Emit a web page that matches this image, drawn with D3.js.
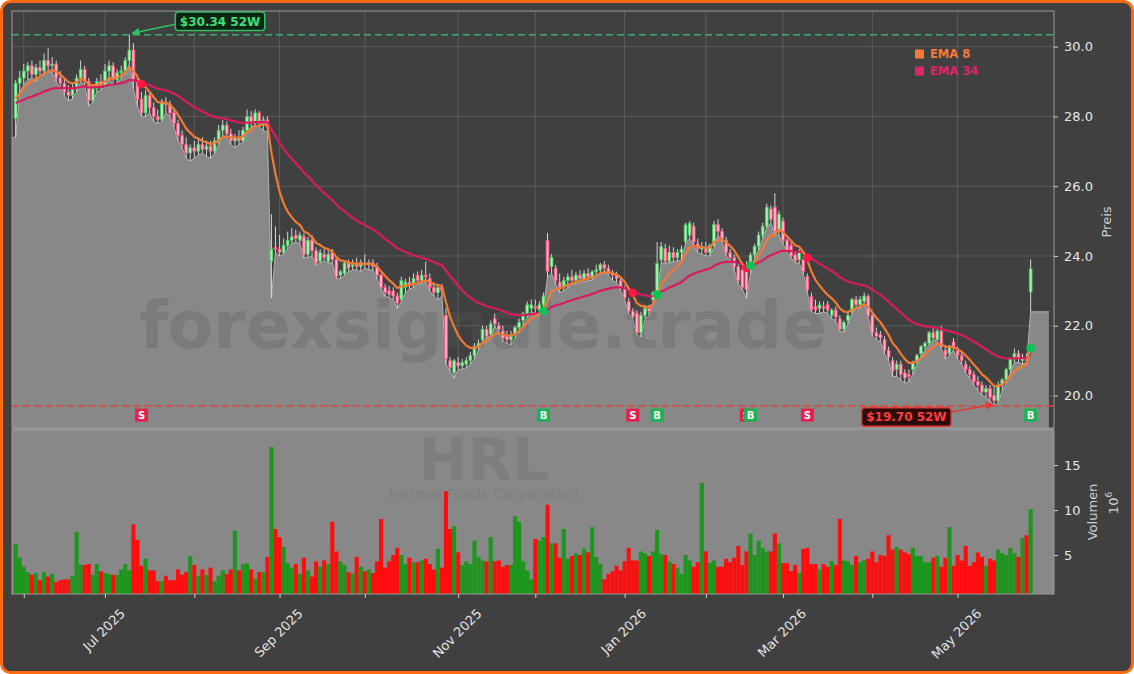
<!DOCTYPE html>
<html><head><meta charset="utf-8">
<script src="https://cdn.jsdelivr.net/npm/d3@7"></script>
<style>
html,body{margin:0;padding:0;background:#fff;}
svg{display:block;font-family:"DejaVu Sans",sans-serif;}
</style></head><body>
<svg id="chart" width="1134" height="674"></svg>
<script>
// ---------------- DATA ----------------
const ticker = "HRL";
const companyName = "Hormel Foods Corporation";
const watermark = "forexsignale.trade";
const firstDay = "2025-05-29", lastDay = "2026-05-28";
const holidays = ["2025-06-19","2025-07-04","2025-09-01","2025-11-27","2025-12-25","2026-01-01","2026-01-19","2026-02-16","2026-04-03","2026-05-25"];
const areaPadBars = [0.9, 4.5];   // fill extends this many bars beyond first / last candle

const opens = [
27.95,28.95,
29.10,29.30,29.45,29.20,29.40,29.30,29.60,29.45,29.50,29.10,28.95,28.70,28.60,28.80,29.10,29.35,29.00,28.45,28.80,29.00,
28.90,29.30,29.45,29.05,29.25,29.30,29.60,29.90,29.00,28.50,28.10,28.60,28.25,28.00,27.90,28.40,28.35,28.10,27.80,27.45,27.20,26.95,
27.10,27.00,27.20,27.05,27.15,27.00,27.30,27.60,27.75,27.50,27.30,27.40,27.30,27.60,28.00,27.80,28.10,27.80,27.90,23.85,24.25,
24.20,24.10,24.30,24.45,24.60,24.45,24.55,24.05,24.45,24.15,23.85,24.05,23.85,24.10,23.90,23.45,23.50,23.80,23.70,23.75,23.70,
23.80,23.75,23.80,23.70,23.45,23.10,23.00,23.00,22.85,22.75,23.10,23.25,23.20,23.45,23.30,23.45,23.35,23.10,22.95,23.10,22.30,21.00,20.65,
20.95,20.85,20.90,21.00,21.15,21.40,21.60,21.90,21.75,22.20,22.00,21.85,21.70,21.60,21.75,21.95,22.15,22.35,22.50,
22.55,22.45,22.60,24.45,23.70,23.65,23.25,23.10,23.30,23.40,23.30,23.45,23.35,23.50,23.40,23.55,23.60,23.75,23.65,23.50,23.45,23.30,
23.05,22.70,22.42,22.36,21.80,22.30,22.50,22.74,22.98,23.89,24.22,23.85,24.10,23.95,24.10,24.41,24.60,24.85,24.35,24.20,
24.25,24.10,24.30,24.90,24.70,24.45,24.10,23.95,23.70,23.60,23.75,23.60,24.03,24.27,24.60,24.85,25.35,25.40,24.70,
25.00,24.45,24.30,24.03,23.89,23.89,23.41,22.84,22.55,22.50,22.55,22.60,22.30,22.45,22.20,21.90,22.15,22.40,22.75,22.60,22.70,22.85,
22.30,21.80,21.75,21.60,21.30,21.00,20.75,20.90,20.65,20.60,20.75,20.95,21.20,21.40,21.50,21.80,21.60,21.85,21.30,21.20,21.55,
21.30,21.15,20.90,20.75,20.60,20.40,20.30,20.10,20.20,20.00,19.85,20.30,20.45,20.75,21.05,21.20,21.00,21.10,22.97];

const highs = [
29.05,29.30,
29.50,29.55,29.60,29.50,29.60,29.80,29.95,29.70,29.60,29.30,29.10,28.90,28.95,29.20,29.60,29.45,29.10,28.90,29.10,29.20,
29.50,29.60,29.55,29.35,29.45,29.70,30.34,30.10,29.20,28.70,28.75,28.70,28.40,28.20,28.50,28.55,28.45,28.20,27.90,27.60,27.40,27.20,
27.30,27.35,27.40,27.30,27.30,27.40,27.75,27.90,27.85,27.65,27.50,27.60,27.70,28.20,28.15,28.20,28.15,28.00,28.00,25.20,24.85,
24.60,24.50,24.70,24.80,24.75,24.70,24.65,24.55,24.60,24.25,24.20,24.20,24.15,24.20,23.95,23.60,23.85,23.90,23.90,23.95,23.90,
24.05,23.90,23.90,23.80,23.50,23.20,23.15,23.10,22.95,23.40,23.35,23.40,23.50,23.55,23.60,23.84,23.50,23.25,23.20,23.20,22.50,21.10,21.05,
21.10,21.05,21.10,21.25,21.50,21.60,22.00,22.00,22.15,22.35,22.10,22.00,21.85,21.85,22.00,22.20,22.40,22.70,22.75,
22.75,22.70,22.95,24.66,24.05,23.75,23.50,23.40,23.50,23.60,23.55,23.60,23.60,23.65,23.60,23.75,23.80,23.85,23.75,23.60,23.55,23.40,
23.15,22.80,22.50,22.45,22.40,22.60,22.60,23.00,24.40,24.40,24.35,24.30,24.25,24.20,24.30,24.95,25.00,24.95,24.50,24.40,
24.40,24.35,25.00,25.05,24.80,24.55,24.20,24.05,23.80,23.70,23.85,24.10,24.35,24.70,24.95,25.50,25.45,25.80,25.30,
25.10,24.50,24.40,24.15,24.20,24.00,23.50,22.95,22.75,22.70,22.70,22.70,22.50,22.55,22.30,22.15,22.40,22.80,22.85,22.85,22.95,22.90,
22.40,21.95,21.85,21.70,21.40,21.10,21.00,21.00,20.75,20.75,21.00,21.20,21.45,21.55,21.85,21.95,21.90,22.00,21.45,21.45,21.65,
21.40,21.25,21.00,20.85,20.70,20.55,20.40,20.30,20.30,20.25,20.40,20.50,20.80,21.10,21.35,21.30,21.20,21.20,23.90];

const lows = [
27.40,28.70,
28.90,29.05,29.10,29.00,29.15,29.20,29.30,29.25,29.00,28.80,28.60,28.45,28.50,28.70,29.00,28.90,28.30,28.40,28.70,28.75,
28.85,29.10,28.90,28.95,29.10,29.20,29.50,28.80,28.30,28.00,28.00,28.10,27.85,27.80,27.85,28.10,28.00,27.70,27.30,27.10,26.80,26.72,
26.80,26.90,26.95,26.85,26.80,26.95,27.20,27.45,27.40,27.20,27.10,27.20,27.25,27.55,27.70,27.75,27.70,27.60,27.55,22.80,24.10,
24.00,24.05,24.20,24.35,24.40,24.35,23.95,23.95,24.00,23.75,23.80,23.85,23.80,23.80,23.35,23.35,23.45,23.55,23.60,23.60,23.55,
23.65,23.60,23.60,23.35,23.05,22.85,22.80,22.75,22.50,22.70,22.95,23.05,23.10,23.20,23.20,23.25,23.00,22.85,22.74,22.85,20.90,20.70,20.50,
20.75,20.75,20.80,20.90,21.05,21.30,21.55,21.65,21.70,22.00,21.80,21.55,21.50,21.45,21.65,21.80,22.00,22.25,22.40,
22.35,22.30,22.50,23.40,23.50,23.20,22.95,23.00,23.10,23.20,23.20,23.25,23.25,23.30,23.30,23.45,23.50,23.55,23.45,23.30,23.25,23.00,
22.75,22.35,22.20,21.75,21.68,22.20,22.30,22.65,22.90,23.80,23.80,23.80,23.85,23.85,23.90,24.35,24.50,24.30,24.10,24.05,
24.00,24.00,24.25,24.60,24.40,24.00,23.85,23.60,23.20,23.05,22.79,23.50,23.95,24.15,24.50,24.80,24.95,24.60,24.60,
24.35,24.10,23.95,23.80,23.80,23.50,22.95,22.40,22.35,22.35,22.40,22.35,22.20,22.15,21.85,21.82,22.05,22.35,22.50,22.50,22.65,22.25,
21.70,21.60,21.55,21.20,21.00,20.55,20.55,20.45,20.36,20.40,20.60,20.90,21.10,21.30,21.45,21.60,21.55,21.35,21.05,21.15,21.30,
21.05,20.90,20.65,20.50,20.30,20.15,20.00,19.95,19.85,19.70,19.80,20.15,20.35,20.65,20.95,20.95,20.90,20.95,22.40];

const closes = [
28.95,29.10,
29.30,29.45,29.20,29.40,29.30,29.60,29.45,29.50,29.10,28.95,28.70,28.60,28.80,29.10,29.35,29.00,28.45,28.80,29.00,28.90,
29.30,29.45,29.05,29.25,29.30,29.60,29.90,29.00,28.50,28.10,28.60,28.25,28.00,27.90,28.40,28.35,28.10,27.80,27.45,27.20,26.95,27.10,
27.00,27.20,27.05,27.15,27.00,27.30,27.60,27.75,27.50,27.30,27.40,27.30,27.60,28.00,27.80,28.10,27.80,27.90,27.70,24.20,24.20,
24.10,24.30,24.45,24.55,24.50,24.60,24.05,24.45,24.15,23.80,24.10,23.95,24.05,23.90,23.40,23.55,23.80,23.65,23.75,23.70,23.80,
23.75,23.80,23.70,23.45,23.10,22.95,22.90,22.85,22.65,23.30,23.25,23.15,23.35,23.30,23.45,23.40,23.10,22.95,23.10,23.00,21.05,20.80,21.00,
20.85,20.95,21.00,21.15,21.40,21.50,21.90,21.70,22.05,22.05,21.90,21.65,21.60,21.70,21.95,22.10,22.35,22.60,22.60,
22.50,22.60,22.85,23.55,23.95,23.30,23.10,23.30,23.40,23.30,23.45,23.35,23.50,23.40,23.55,23.60,23.75,23.65,23.50,23.45,23.35,23.08,
22.80,22.42,22.26,21.80,22.30,22.50,22.42,22.94,23.79,24.27,23.85,24.10,23.95,24.10,24.20,24.89,24.93,24.40,24.20,24.25,
24.10,24.30,24.90,24.70,24.50,24.10,23.95,23.70,23.30,23.10,23.03,24.03,24.27,24.60,24.85,25.40,25.05,24.70,25.20,
24.45,24.15,24.00,23.86,24.13,23.55,23.03,22.46,22.45,22.60,22.50,22.45,22.45,22.25,21.90,22.10,22.30,22.75,22.60,22.75,22.85,22.30,
21.80,21.70,21.65,21.30,21.10,20.70,20.90,20.60,20.50,20.55,20.95,21.15,21.40,21.50,21.80,21.65,21.85,21.40,21.15,21.40,21.35,
21.15,21.00,20.75,20.60,20.40,20.30,20.10,20.20,19.95,19.85,20.30,20.45,20.75,21.05,21.20,21.05,21.10,21.00,23.63];

// volume in millions of shares
const volumes = [
6.2,4.7,3.7,3.1,2.8,3.0,2.2,3.1,2.6,2.9, 2.0,2.2,2.3,2.3,2.7,7.6,3.9,3.9,4.0,2.8,
4.0,3.2,3.0,2.9,2.8,2.8,3.4,4.0,3.3,8.4, 6.7,3.8,4.6,3.3,3.3,2.1,2.1,2.7,2.2,2.2,
3.4,2.8,3.1,4.9,3.9,2.7,3.4,2.8,3.6,2.1, 2.7,3.3,2.9,3.4,7.7,3.3,4.0,4.1,3.4,2.4,
3.1,3.1,4.8,17.0,7.9,7.0,5.9,4.1,3.6,4.0, 2.9,4.7,3.3,2.6,4.3,3.7,4.4,4.0,8.7,5.4,
4.3,3.9,3.1,2.9,4.8,3.7,3.2,3.4,3.0,4.3, 9.0,3.6,4.3,5.0,5.8,5.0,4.0,4.7,4.2,4.2,
4.4,4.6,4.0,3.4,5.7,3.6,12.1,7.9,8.2,5.3, 3.9,4.3,4.0,6.6,4.8,4.4,4.3,7.0,4.3,4.4,
3.7,3.9,3.9,9.3,8.7,4.3,3.3,2.3,6.8,6.6, 7.0,10.6,6.3,6.3,4.7,7.9,4.6,
4.9,5.2,5.0,5.7,5.3,8.1,4.8,4.0,2.3,2.9, 3.2,3.8,3.3,4.3,5.8,4.4,4.4,5.4,5.2,4.9,
5.4,7.8,5.1,5.0,4.3,4.0,3.6,2.9,5.0,4.4, 3.7,4.2,13.0,5.4,4.1,4.4,3.7,3.7,4.6,4.2,
4.7,6.0,3.9,5.4,7.4,5.0,6.6,5.8,5.4,5.4, 7.4,6.3,4.1,4.1,3.2,3.9,3.0,5.7,5.8,4.0,
4.0,3.4,4.0,3.7,4.3,3.9,9.0,4.4,4.3,3.9, 4.9,4.2,4.4,4.6,5.4,4.2,5.0,4.9,7.2,5.6,
5.9,5.6,5.3,5.1,5.8,4.9,4.9,4.2,4.2,4.7, 4.9,3.7,4.7,8.1,3.8,5.0,4.4,6.0,3.8,4.2,
5.3,4.8,3.8,4.6,4.4,5.6,5.2,5.0,5.8,5.2, 4.8,6.9,7.2,10.1];

const signalDates = ["2025-07-15","2025-12-03","2026-01-06","2026-01-14","2026-02-17","2026-02-18","2026-03-10","2026-05-28"];
const signalTypes = ["S","B","S","B","S","B","S","B"];
const emaSpans = [8, 34];
const emaSeeds = [28.40, 28.35];
const priceTicks = [20, 22, 24, 26, 28, 30];
const volumeTicks = [5, 10, 15];
const xTickLabels = ["Jul 2025","Sep 2025","Nov 2025","Jan 2026","Mar 2026","May 2026"];
const markerLevel = 19.44;

// ---------------- HELPERS ----------------
const parse = s => new Date(s + "T00:00:00Z");
const iso = d => d.toISOString().slice(0,10);
function tradingDays(start, end, hol){
  const out=[], hs=new Set(hol); let d=parse(start); const e=parse(end);
  while(d<=e){ const wd=d.getUTCDay();
    if(wd!==0 && wd!==6 && !hs.has(iso(d))) out.push(new Date(d));
    d=new Date(d.getTime()+86400000); }
  return out;
}
function ema(vals, span, seed){ const a=2/(span+1); let p=seed; return vals.map(v => (p = p + a*(v-p))); }

const dates = tradingDays(firstDay, lastDay, holidays);
const n = Math.min(dates.length, opens.length, highs.length, lows.length, closes.length, volumes.length);
const data = d3.range(n).map(i => ({
  i, date: dates[i], o: opens[i], c: closes[i],
  h: Math.max(highs[i], opens[i], closes[i]), l: Math.min(lows[i], opens[i], closes[i]), v: volumes[i]
}));
const ema8 = ema(data.map(d=>d.c), emaSpans[0], emaSeeds[0]);
const ema34 = ema(data.map(d=>d.c), emaSpans[1], emaSeeds[1]);

// ---------------- LAYOUT ----------------
const W=1134, H=674, L=12, R=1054, PT=11, PB=428, VT=430, VB=594;
const x = d3.scaleLinear().domain([-0.9, 255.75]).range([L,R]);   // bar-index axis
const yP = d3.scaleLinear().domain([19.07, 31.02]).range([PB, PT]);
const yV = d3.scaleLinear().domain([0.67, 18.9]).range([VB, VT]);

const svg = d3.select("#chart");
const defs = svg.append("defs");
defs.append("clipPath").attr("id","clipP").append("rect").attr("x",L).attr("y",PT).attr("width",R-L).attr("height",PB-PT);
defs.append("clipPath").attr("id","clipV").append("rect").attr("x",L).attr("y",VT).attr("width",R-L).attr("height",VB-VT);
function arrowMarker(id, color){
  defs.append("marker").attr("id",id).attr("viewBox","0 0 10 10").attr("refX",9).attr("refY",5)
    .attr("markerWidth",9).attr("markerHeight",8).attr("markerUnits","userSpaceOnUse").attr("orient","auto")
    .append("path").attr("d","M0,0L10,5L0,10z").attr("fill",color);
}
arrowMarker("arrG","#2fbf62"); arrowMarker("arrR","#e53935");

// figure frame
svg.append("rect").attr("x",1.5).attr("y",1.5).attr("width",W-3).attr("height",H-3).attr("rx",9)
  .attr("fill","#404040").attr("stroke","#ff6a10").attr("stroke-width",3);

// month ticks = first trading day of each month
const monthTicks = data.filter((d,k) => k>0 && d.date.getUTCMonth() !== data[k-1].date.getUTCMonth());
const fmtM = d3.utcFormat("%b %Y");

// ---------------- PRICE PANEL ----------------
const gp = svg.append("g").attr("clip-path","url(#clipP)");
gp.append("rect").attr("x",L).attr("y",PT).attr("width",R-L).attr("height",PB-PT).attr("fill","#404040");
gp.selectAll("line.hg").data(priceTicks).join("line").attr("x1",L).attr("x2",R)
  .attr("y1",d=>yP(d)).attr("y2",d=>yP(d)).attr("stroke","#5e5e5e").attr("stroke-width",0.9);
gp.selectAll("line.vg").data(monthTicks).join("line").attr("y1",PT).attr("y2",PB)
  .attr("x1",d=>x(d.i)).attr("x2",d=>x(d.i)).attr("stroke","#5e5e5e").attr("stroke-width",0.9);

// area under lows
const areaPts = [{i:-areaPadBars[0], l:data[0].l}, ...data, {i:n-1+areaPadBars[1], l:data[n-1].l}];
gp.append("path").datum(areaPts).attr("fill","#888888")
  .attr("d", d3.area().x(d=>x(d.i)).y0(PB).y1(d=>yP(d.l)));
gp.append("path").datum(areaPts).attr("fill","none").attr("stroke","#b0b0b0").attr("stroke-width",1)
  .attr("d", d3.line().x(d=>x(d.i)).y(d=>yP(d.l)));

// watermark
gp.append("text").attr("x",483).attr("y",348).attr("text-anchor","middle")
  .attr("font-size",66).attr("font-weight","bold").attr("fill","#595959").attr("fill-opacity",0.28).text(watermark);

// candles
const up = d => d.c >= d.o;
gp.selectAll("line.wick").data(data).join("line")
  .attr("x1",d=>x(d.i)).attr("x2",d=>x(d.i)).attr("y1",d=>yP(d.h)).attr("y2",d=>yP(d.l))
  .attr("stroke","#d4d4d4").attr("stroke-width",1);
gp.selectAll("rect.body").data(data).join("rect")
  .attr("x",d=>x(d.i)-1.4).attr("width",2.8)
  .attr("y",d=>yP(Math.max(d.o,d.c))).attr("height",d=>Math.max(0.8, Math.abs(yP(d.o)-yP(d.c))))
  .attr("fill",d=>up(d)?"#aeeeb6":"#ffb4c6").attr("stroke",d=>up(d)?"#3ec95a":"#ff4d7a").attr("stroke-width",0.8);

// EMA lines
const emaLine = arr => d3.line().x((d,i)=>x(i)).y(d=>yP(d))(arr);
gp.append("path").attr("d",emaLine(ema34)).attr("fill","none").attr("stroke","#d81b60").attr("stroke-width",2.2);
gp.append("path").attr("d",emaLine(ema8)).attr("fill","none").attr("stroke","#f07a35").attr("stroke-width",2.2);

// 52W lines
const hiIdx = d3.maxIndex(data, d=>d.h), loIdx = d3.minIndex(data, d=>d.l);
const hi = data[hiIdx].h, lo = data[loIdx].l;
gp.append("line").attr("x1",L).attr("x2",R).attr("y1",yP(hi)).attr("y2",yP(hi))
  .attr("stroke","#3dae66").attr("stroke-width",1.6).attr("stroke-dasharray","7,4");
gp.append("line").attr("x1",L).attr("x2",R).attr("y1",yP(lo)).attr("y2",yP(lo))
  .attr("stroke","#e0443a").attr("stroke-width",1.6).attr("stroke-dasharray","7,4");

// signal dots and markers
const idxOf = s => data.findIndex(d => iso(d.date) === s);
signalDates.forEach((s,k) => {
  const i = idxOf(s); if (i < 0) return;
  gp.append("circle").attr("cx",x(i)).attr("cy",yP((ema8[i]+ema34[i])/2)).attr("r",4.3)
    .attr("fill", signalTypes[k]==="B" ? "#00c853" : "#ff1744");
});
signalDates.forEach((s,k) => {
  const i = idxOf(s); if (i < 0) return;
  const cx = x(i), cy = yP(markerLevel), isB = signalTypes[k]==="B";
  gp.append("rect").attr("x",cx-6.5).attr("y",cy-6.5).attr("width",13).attr("height",13)
    .attr("fill", isB ? "#17b553" : "#e91e4e");
  gp.append("text").attr("x",cx).attr("y",cy+3.6).attr("text-anchor","middle").attr("font-size",10)
    .attr("font-weight","bold").attr("fill","#ffffff").text(signalTypes[k]);
});

// 52W labels
function label52(tx, ty, txt, bx, by, fill, stroke, color, markerId, left){
  const t = svg.append("text").attr("font-size",12).attr("font-weight","bold").attr("fill",color).text(txt);
  const w = t.node().getComputedTextLength() + 9, h = 18.5;
  const x0 = left ? bx - w : bx;
  svg.insert("rect", () => t.node()).attr("x",x0).attr("y",by-h/2).attr("width",w).attr("height",h).attr("rx",3)
    .attr("fill",fill).attr("stroke",stroke).attr("stroke-width",1.5);
  t.attr("x",x0+w/2).attr("y",by+4.3).attr("text-anchor","middle");
  const sx = left ? x0 + w : x0, sy = by + (left ? -5 : 3);
  svg.append("line").attr("x1",sx).attr("y1",sy).attr("x2",tx).attr("y2",ty)
    .attr("stroke",stroke).attr("stroke-width",1.5).attr("marker-end",`url(#${markerId})`);
}
const hx = x(hiIdx), hy = yP(hi);
label52(hx+3, hy-1.5, "$" + hi.toFixed(2) + " 52W", hx+46, hy-13.5, "#0c2414", "#2fbf62", "#3ee07c", "arrG", false);
const lx = x(loIdx), ly = yP(lo);
label52(lx-1, ly-1.5, "$" + lo.toFixed(2) + " 52W", lx-43, ly+11, "#2a0c0c", "#e53935", "#ff3d3d", "arrR", true);

// legend
const legend = [{t:"EMA 8", c:"#f47a38"}, {t:"EMA 34", c:"#e0236a"}];
legend.forEach((d,i) => {
  svg.append("rect").attr("x",915).attr("y",49.5+i*17).attr("width",9).attr("height",9).attr("fill",d.c);
  svg.append("text").attr("x",930).attr("y",58+i*17).attr("font-size",11.5).attr("font-weight","bold").attr("fill",d.c).text(d.t);
});

svg.append("rect").attr("x",L).attr("y",PT).attr("width",R-L).attr("height",PB-PT)
  .attr("fill","none").attr("stroke","#9a9a9a").attr("stroke-width",1);

// price axis
const axP = svg.append("g").attr("transform",`translate(${R},0)`)
  .call(d3.axisRight(yP).tickValues(priceTicks).tickFormat(d3.format(".1f")).tickSize(4).tickPadding(6));
axP.select(".domain").remove();
axP.selectAll("line").attr("stroke","#d0d0d0");
axP.selectAll("text").attr("fill","#e8e8e8").attr("font-size",13).attr("font-family","DejaVu Sans");
svg.append("text").attr("transform","translate(1111,222) rotate(-90)").attr("text-anchor","middle")
  .attr("font-size",13).attr("fill","#cfcfcf").text("Preis");

// ---------------- VOLUME PANEL ----------------
const gv = svg.append("g").attr("clip-path","url(#clipV)");
gv.append("rect").attr("x",L).attr("y",VT).attr("width",R-L).attr("height",VB-VT).attr("fill","#888888");
gv.append("text").attr("x",484).attr("y",480).attr("text-anchor","middle").attr("font-size",58)
  .attr("font-weight","bold").attr("fill","#595959").attr("fill-opacity",0.22).text(ticker);
gv.append("text").attr("x",484).attr("y",499).attr("text-anchor","middle").attr("font-size",14.5)
  .attr("fill","#595959").attr("fill-opacity",0.22).text(companyName);
gv.selectAll("rect.vol").data(data).join("rect")
  .attr("x",d=>x(d.i)-2.05).attr("width",4.1)
  .attr("y",d=>yV(d.v)).attr("height",d=>VB-yV(d.v))
  .attr("fill",d=>up(d)?"#1c961c":"#ff0d0d");
svg.append("line").attr("x1",L).attr("x2",R).attr("y1",PB+1).attr("y2",PB+1).attr("stroke","#a8a8a8").attr("stroke-width",1.5);
svg.append("rect").attr("x",L).attr("y",VT).attr("width",R-L).attr("height",VB-VT)
  .attr("fill","none").attr("stroke","#9a9a9a").attr("stroke-width",1);

const axV = svg.append("g").attr("transform",`translate(${R},0)`)
  .call(d3.axisRight(yV).tickValues(volumeTicks).tickFormat(d3.format("d")).tickSize(4).tickPadding(6));
axV.select(".domain").remove();
axV.selectAll("line").attr("stroke","#d0d0d0");
axV.selectAll("text").attr("fill","#e8e8e8").attr("font-size",13).attr("font-family","DejaVu Sans");
svg.append("text").attr("transform","translate(1097,512) rotate(-90)").attr("text-anchor","middle")
  .attr("font-size",13).attr("fill","#cfcfcf").text("Volumen");
const off = svg.append("text").attr("transform","translate(1118,503) rotate(-90)").attr("text-anchor","middle")
  .attr("font-size",13).attr("fill","#cfcfcf");
off.append("tspan").text("10");
off.append("tspan").attr("font-size",9).attr("dy",-6).text("6");

// x axis
const axX = svg.append("g").attr("transform",`translate(0,${VB})`)
  .call(d3.axisBottom(x).tickValues(monthTicks.map(d=>d.i)).tickFormat("").tickSize(4));
axX.select(".domain").remove();
axX.selectAll("line").attr("stroke","#d0d0d0");
monthTicks.filter(d => xTickLabels.includes(fmtM(d.date))).forEach(d => {
  const t = svg.append("text").attr("font-size",13).attr("fill","#e4e4e4")
    .attr("text-anchor","middle").attr("dominant-baseline","central").text(fmtM(d.date));
  const len = t.node().getComputedTextLength();
  const half = (len + 12) * 0.7071 / 2;
  t.attr("transform",`translate(${x(d.i)-1},${607 + half}) rotate(-45)`);
});
</script></body></html>
